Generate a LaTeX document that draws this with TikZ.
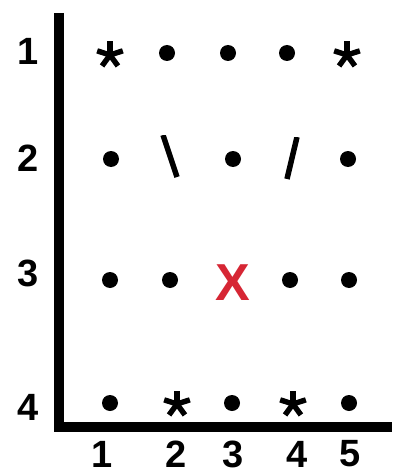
\documentclass[tikz,border=0pt]{standalone}
\usepackage{fontspec}
\setmainfont{Liberation Sans}
\usepackage{tikz}
\usetikzlibrary{positioning}
\definecolor{ink}{RGB}{0,0,0}
\definecolor{crimson}{RGB}{214,38,52}
\tikzset{
  axisline/.style={line width=10pt,draw=ink},
  num/.style={font=\fontsize{38}{40}\selectfont\bfseries,inner sep=0pt},
  gdot/.style={circle,fill=ink,minimum size=16pt,inner sep=0pt},
  astmark/.style={minimum size=30pt,inner sep=0pt,
    path picture={\foreach \a in {90,162,234,306,18}
      \draw[line width=5.4pt,ink] (path picture bounding box.center) -- ++(\a:13.5pt);}},
  bslash/.style={minimum width=30pt,minimum height=42pt,inner sep=0pt,
    path picture={\draw[line width=5.5pt,ink] (path picture bounding box.center)
      ++(-7pt,21pt) -- ++(14pt,-42pt);}},
  fslash/.style={minimum width=30pt,minimum height=42pt,inner sep=0pt,
    path picture={\draw[line width=5.5pt,ink] (path picture bounding box.center)
      ++(5pt,21pt) -- ++(-10pt,-42pt);}},
  cross/.style={font=\fontsize{52}{52}\selectfont\bfseries,text=crimson,inner sep=0pt}
}
\begin{document}
\begin{tikzpicture}[x=1pt,y=-1pt]
  \useasboundingbox[fill=white] (0,0) rectangle (392,476);
  \coordinate (top) at (59,13);
  \coordinate (origin) at (59,427);
  \coordinate (right) at (392,427);
  \draw[axisline] (top) -- (origin) -- (right);

  \node[num] (r1) at (28,51) {1};
  \node[num] (r2) at (28,158) {2};
  \node[num] (r3) at (28,273) {3};
  \node[num] (r4) at (28,407) {4};
  \node[num] (c1) at (102,454) {1};
  \node[num] (c2) at (176,454) {2};
  \node[num] (c3) at (233,454) {3};
  \node[num] (c4) at (297,454) {4};
  \node[num] (c5) at (350,454) {5};

  \node[astmark] (p11) at (110,55) {};
  \node[gdot] (p12) at (167,53) {};
  \node[gdot] (p13) at (228,53) {};
  \node[gdot] (p14) at (287,53) {};
  \node[astmark] (p15) at (347,55) {};

  \node[gdot] (p21) at (111,159) {};
  \node[bslash] (p22) at (170,156) {};
  \node[gdot] (p23) at (233,159) {};
  \node[fslash] (p24) at (292,158) {};
  \node[gdot] (p25) at (348,159) {};

  \node[gdot] (p31) at (110,280) {};
  \node[gdot] (p32) at (170,280) {};
  \node[cross] (p33) at (233,283) {X};
  \node[gdot] (p34) at (290,280) {};
  \node[gdot] (p35) at (349,280) {};

  \node[gdot] (p41) at (110,403) {};
  \node[astmark] (p42) at (177,404) {};
  \node[gdot] (p43) at (232,403) {};
  \node[astmark] (p44) at (293,404) {};
  \node[gdot] (p45) at (349,403) {};
\end{tikzpicture}
\end{document}
